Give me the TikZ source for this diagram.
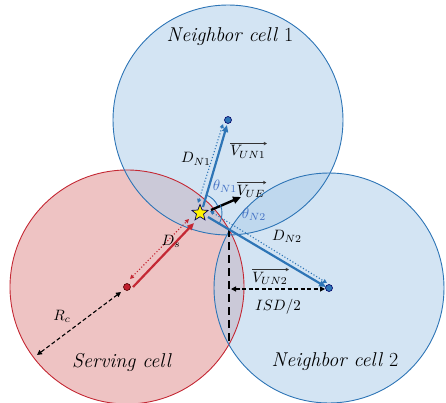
\documentclass[tikz,border=0pt]{standalone}
\usepackage{fontspec}
\usetikzlibrary{arrows.meta,shapes.geometric}
\definecolor{redline}{RGB}{196,40,52}
\definecolor{redfill}{RGB}{222,136,136}
\definecolor{blueline}{RGB}{46,117,182}
\definecolor{bluefill}{RGB}{175,206,234}
\definecolor{thetablue}{RGB}{68,114,196}
\definecolor{reddot}{RGB}{192,30,45}
\newcommand{\mlab}[1]{\scalebox{1.5}{$#1$}}
\begin{document}
\begin{tikzpicture}[x=1pt,y=-1pt,
  cellcircle/.style={line width=0.9pt},
  celltext/.style={font=\fontsize{20}{23}\selectfont},
  mlabel/.style={inner sep=1pt},
  overvec/.style={draw=black!80,line width=0.6pt,-{Straight Barb[length=2.5pt,width=3pt]}},
  vecblue/.style={draw=blueline,line width=2.2pt,-{Triangle[length=7pt,width=6pt]}},
  dotblue/.style={draw=blueline,line width=1.1pt,dotted,{Triangle[length=4pt,width=4pt]}-{Triangle[length=4pt,width=4pt]}},
  dotred/.style={draw=redline,line width=1.1pt,dotted,{Triangle[length=4pt,width=4pt]}-{Triangle[length=4pt,width=4pt]}},
  blkdash/.style={draw=black,line width=1.1pt,dash pattern=on 4pt off 2.5pt,{Triangle[length=5pt,width=5pt]}-{Triangle[length=5pt,width=5pt]}},
  centerdot/.style={circle,inner sep=0pt,minimum size=7pt,line width=0.6pt},
  anglearc/.style={draw=blueline,line width=0.9pt}
]
\useasboundingbox (0,0) rectangle (446,403);
% centres
\coordinate (S) at (127,287);
\coordinate (N1) at (228,120);
\coordinate (N2) at (329,288);
\coordinate (U) at (200,213);
% fills
\fill[redfill,fill opacity=0.5] (S) circle[radius=117];
\fill[bluefill,fill opacity=0.55] (N1) circle[radius=115];
\fill[bluefill,fill opacity=0.55] (N2) circle[radius=115];
% outlines
\draw[cellcircle,redline] (S) circle[radius=117];
\draw[cellcircle,blueline] (N1) circle[radius=115];
\draw[cellcircle,blueline] (N2) circle[radius=115];
% chord
\coordinate (CT) at (229,229);
\coordinate (CB) at (229,345);
\draw[line width=2.2pt,dash pattern=on 8pt off 5pt] (CT) -- (CB);
% ISD/2
\coordinate (I1) at (231,289);
\coordinate (I2) at (325,289);
\draw[blkdash] (I1) -- (I2);
% Rc
\coordinate (R1) at (121,292);
\coordinate (R2) at (37,355);
\draw[blkdash] (R1) -- (R2);
% serving arrows
\coordinate (Ds1) at (130,279);
\coordinate (Ds2) at (189,219);
\draw[dotred] (Ds1) -- (Ds2);
\coordinate (Vs1) at (133,287);
\coordinate (Vs2) at (194,223);
\draw[draw=redline,line width=2.2pt,-{Triangle[length=7pt,width=6pt]}] (Vs1) -- (Vs2);
% N1 arrows
\coordinate (D11) at (198,203);
\coordinate (D12) at (223,124);
\draw[dotblue] (D11) -- (D12);
\coordinate (V11) at (203,207);
\coordinate (V12) at (227,125);
\draw[vecblue] (V11) -- (V12);
% N2 arrows
\coordinate (D21) at (210,211);
\coordinate (D22) at (327,283);
\draw[dotblue] (D21) -- (D22);
\coordinate (V21) at (208,217);
\coordinate (V22) at (326,287);
\draw[vecblue] (V21) -- (V22);
% UE velocity
\coordinate (E1) at (211,210);
\coordinate (E2) at (241,197);
\draw[line width=2.4pt,-{Triangle[length=8pt,width=7pt]}] (E1) -- (E2);
% angle arcs
\draw[anglearc] (U) ++(-72:19) arc[start angle=-72,end angle=-22,radius=19];
\draw[anglearc] (U) ++(-22:22) arc[start angle=-22,end angle=28,radius=22];
% centre dots
\node[centerdot,fill=reddot,draw=black!70!red] (Sdot) at (S) {};
\node[centerdot,fill=blueline,draw=black!60!blue] (N1dot) at (N1) {};
\node[centerdot,fill=blueline,draw=black!60!blue] (N2dot) at (N2) {};
% UE star
\node[star,star points=5,star point ratio=2.3,minimum size=17pt,inner sep=0pt,fill=yellow,draw=black!70!blue,line width=0.7pt] (star) at (U) {};
% texts
\node[celltext] (t1) at (230,37) {\textit{Neighbor cell} 1};
\node[celltext] (t2) at (122,362) {\textit{Serving cell}};
\node[celltext] (t3) at (335,362) {\textit{Neighbor cell} 2};
\node[mlabel] (lRc) at (62,316) {\mlab{R_c}};
\node[mlabel] (lDs) at (171,241) {\mlab{D_s}};
\node[mlabel] (lDN1) at (196,159) {\mlab{D_{N1}}};
\node[mlabel] (lVUN1) at (248,152) {\mlab{V_{UN1}}};
\node[mlabel,text=thetablue] (lth1) at (225,186) {\mlab{\theta_{N1}}};
\node[mlabel] (lVUE) at (251,191) {\mlab{V_{UE}}};
\node[mlabel,text=thetablue] (lth2) at (254,214) {\mlab{\theta_{N2}}};
\node[mlabel] (lDN2) at (287,236) {\mlab{D_{N2}}};
\node[mlabel] (lVUN2) at (270,278) {\mlab{V_{UN2}}};
\node[mlabel] (lISD) at (278,307) {\mlab{ISD/2}};
% vector arrows over labels
\draw[overvec] ([xshift=1pt,yshift=1pt]lVUN1.north west) -- ([yshift=1pt]lVUN1.north east);
\draw[overvec] ([xshift=1pt,yshift=1pt]lVUE.north west) -- ([yshift=1pt]lVUE.north east);
\draw[overvec] ([xshift=1pt,yshift=1pt]lVUN2.north west) -- ([yshift=1pt]lVUN2.north east);
\end{tikzpicture}
\end{document}
